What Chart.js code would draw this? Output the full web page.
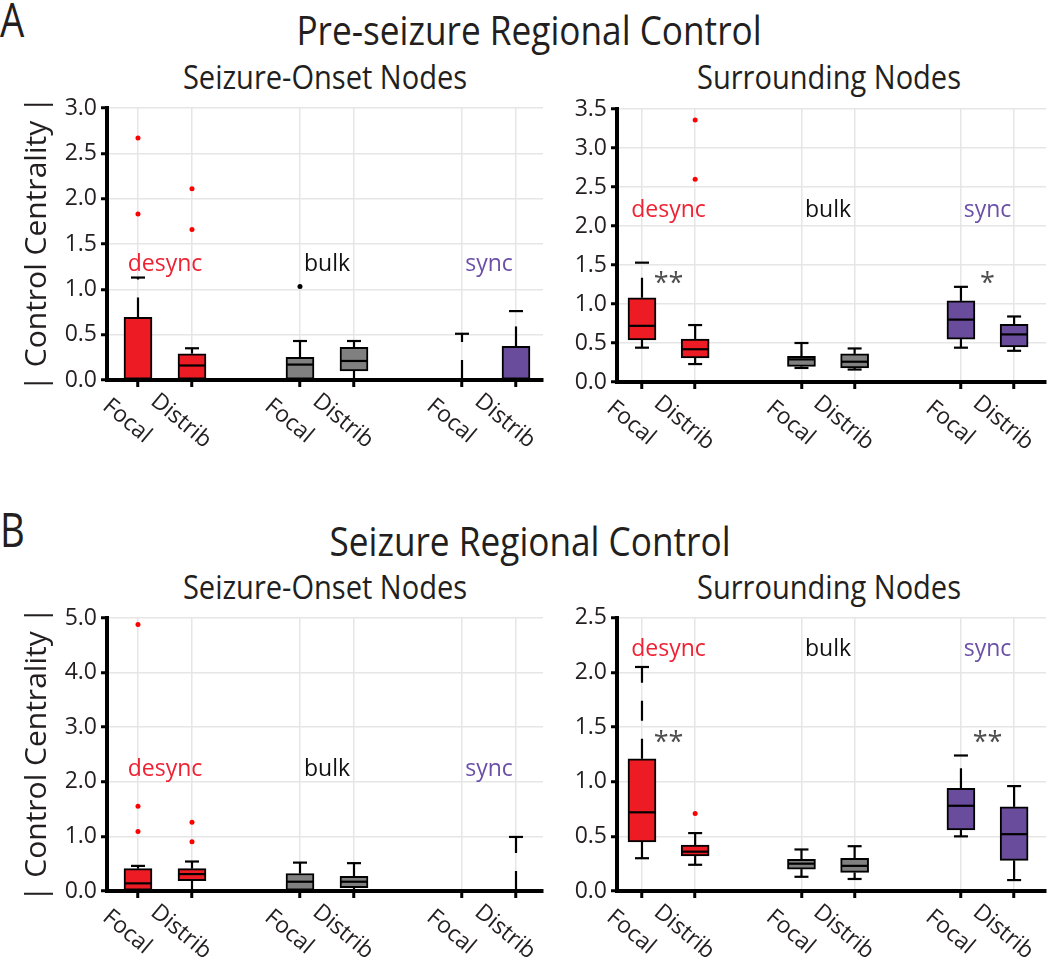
<!DOCTYPE html>
<html>
<head>
<meta charset="utf-8">
<script src="https://cdn.jsdelivr.net/npm/chart.js@4.4.1/dist/chart.umd.min.js"></script>
<style>
  body { margin: 0; background: #fff; width: 1050px; height: 958px; position: relative; overflow: hidden;
         font-family: "Open Sans", sans-serif; color: #231f20; }
  .t { position: absolute; white-space: nowrap; line-height: 1; transform-origin: center top; }
  .c { transform: translateX(-50%) scaleX(0.88); }
  canvas { position: absolute; }
</style>
</head>
<body>
<div class="t" style="left:0px;top:-5px;font-size:48px;transform:scaleX(0.8);transform-origin:left top">A</div>
<div class="t c" style="left:529px;top:10px;font-size:40px">Pre-seizure Regional Control</div>
<div class="t c" style="left:325px;top:60px;font-size:33px">Seizure-Onset Nodes</div>
<div class="t c" style="left:829px;top:60px;font-size:33px">Surrounding Nodes</div>

<div class="t" style="left:0px;top:505px;font-size:48px;transform:scaleX(0.8);transform-origin:left top">B</div>
<div class="t c" style="left:530px;top:521px;font-size:40px">Seizure Regional Control</div>
<div class="t c" style="left:325px;top:570px;font-size:33px">Seizure-Onset Nodes</div>
<div class="t c" style="left:829px;top:570px;font-size:33px">Surrounding Nodes</div>

<canvas id="preOnset" width="550" height="380" style="left:0px;top:90px"></canvas>
<canvas id="preSurr" width="530" height="380" style="left:520px;top:90px"></canvas>
<canvas id="szOnset" width="550" height="358" style="left:0px;top:600px"></canvas>
<canvas id="szSurr" width="530" height="358" style="left:520px;top:600px"></canvas>

<script>
// shared layout of every panel: desync / bulk / sync, each Focal + Distrib
const xPos = [0, 1, 3, 4, 6, 7];
const catLabels = ['Focal', 'Distrib', 'Focal', 'Distrib', 'Focal', 'Distrib'];
const groupNames = ['desync', 'bulk', 'sync'];
const groupCenters = [0.5, 3.5, 6.5];
const groupColors = ['#ed1c24', '#808080', '#6a4c9c'];
const groupTextColors = ['#ee2233', '#111111', '#6b4fa8'];
const outlierColors = ['#ff0000', '#000000', '#6a4c9c'];

// A, seizure-onset nodes
const preOnsetLo = [0, 0, 0, 0, 0, 0];
const preOnsetQ1 = [0, 0, 0, 0.10, 0, 0];
const preOnsetMed = [0, 0.16, 0.17, 0.21, 0, 0];
const preOnsetQ3 = [0.69, 0.29, 0.25, 0.36, 0, 0.37];
const preOnsetHi = [1.13, 0.35, 0.43, 0.43, 0.51, 0.76];
const preOnsetOut = [[2.67, 1.83], [2.11, 1.66], [1.03], [], [], []];

// A, surrounding nodes
const preSurrLo = [0.44, 0.23, 0.18, 0.16, 0.44, 0.40];
const preSurrQ1 = [0.54, 0.31, 0.20, 0.18, 0.55, 0.45];
const preSurrMed = [0.72, 0.42, 0.29, 0.26, 0.80, 0.61];
const preSurrQ3 = [1.08, 0.55, 0.33, 0.36, 1.04, 0.74];
const preSurrHi = [1.53, 0.73, 0.50, 0.43, 1.22, 0.84];
const preSurrOut = [[], [3.36, 2.60], [], [], [], []];
const preSurrStars = ['**', '', '*'];

// B, seizure-onset nodes
const szOnsetLo = [0, 0, 0, 0, 0, 0];
const szOnsetQ1 = [0, 0.19, 0, 0.06, 0, 0];
const szOnsetMed = [0.14, 0.31, 0.17, 0.17, 0, 0];
const szOnsetQ3 = [0.41, 0.41, 0.32, 0.27, 0, 0];
const szOnsetHi = [0.46, 0.54, 0.52, 0.51, 0, 0.99];
const szOnsetOut = [[4.88, 1.55, 1.09], [1.26, 0.90], [], [], [], []];

// B, surrounding nodes
const szSurrLo = [0.30, 0.24, 0.13, 0.11, 0.50, 0.10];
const szSurrQ1 = [0.45, 0.32, 0.20, 0.17, 0.56, 0.28];
const szSurrMed = [0.72, 0.36, 0.25, 0.23, 0.78, 0.52];
const szSurrQ3 = [1.21, 0.42, 0.29, 0.30, 0.94, 0.77];
const szSurrHi = [2.05, 0.53, 0.38, 0.41, 1.24, 0.96];
const szSurrOut = [[], [0.71], [], [], [], []];
const szSurrStars = ['**', '', '**'];

Chart.defaults.font.family = '"Open Sans", sans-serif';
Chart.defaults.color = '#231f20';

function boxExtras(d) {
  return {
    id: 'boxExtras',
    afterDatasetsDraw(chart) {
      const { ctx, scales: { x, y } } = chart;
      ctx.save();
      ctx.strokeStyle = '#000';
      ctx.lineWidth = 2.2;
      const whisker = (px, from, to) => {
        if (Math.abs(to - from) < 0.5) return;
        ctx.setLineDash([20, 18]);
        ctx.beginPath(); ctx.moveTo(px, from); ctx.lineTo(px, to); ctx.stroke();
        ctx.setLineDash([]);
        ctx.beginPath(); ctx.moveTo(px - 7, to); ctx.lineTo(px + 7, to); ctx.stroke();
      };
      d.q1.forEach((q1, i) => {
        const px = x.getPixelForValue(xPos[i]);
        whisker(px, y.getPixelForValue(d.q3[i]), y.getPixelForValue(d.hi[i]));
        whisker(px, y.getPixelForValue(q1), y.getPixelForValue(d.lo[i]));
        if (d.q3[i] > q1) {
          const py = y.getPixelForValue(d.med[i]);
          ctx.beginPath(); ctx.moveTo(px - 13, py); ctx.lineTo(px + 13, py); ctx.stroke();
        }
      });
      ctx.restore();
    },
    afterDraw(chart) {
      const { ctx, chartArea, scales: { x, y } } = chart;
      ctx.save();
      ctx.fillStyle = '#231f20';
      ctx.font = '23px "Open Sans"';
      ctx.textAlign = 'center';
      ctx.textBaseline = 'middle';
      // rotated category labels
      xPos.forEach((v, i) => {
        ctx.save();
        ctx.translate(x.getPixelForValue(v) - 11, chartArea.bottom + 41);
        ctx.rotate(40 * Math.PI / 180);
        ctx.fillText(catLabels[i], 0, 0);
        ctx.restore();
      });
      // group names
      ctx.font = '23px "Open Sans"';
      groupNames.forEach((g, i) => {
        ctx.fillStyle = groupTextColors[i];
        ctx.fillText(g, x.getPixelForValue(groupCenters[i]), y.getPixelForValue(d.labelY));
      });
      // significance
      if (d.stars) {
        ctx.fillStyle = '#4d4d4d';
        ctx.font = '27px "Open Sans"';
        d.stars.forEach((s, i) => {
          if (!s) return;
          ctx.fillText(s, x.getPixelForValue(groupCenters[i]), y.getPixelForValue(d.starY) + 5);
        });
      }
      ctx.restore();
    }
  };
}

function makePanel(id, d, o) {
  const boxes = [];
  const outliers = [];
  xPos.forEach((v, i) => {
    if (d.q3[i] > d.q1[i]) boxes.push({ x: v, y: [d.q1[i], d.q3[i]], g: Math.floor(i / 2) });
    d.out[i].forEach(val => outliers.push({ x: v, y: val, g: Math.floor(i / 2) }));
  });

  new Chart(document.getElementById(id), {
    type: 'bar',
    data: {
      datasets: [{
        data: boxes,
        backgroundColor: c => groupColors[c.raw ? c.raw.g : 0],
        borderColor: '#000',
        borderWidth: 2,
        borderSkipped: false,
        barThickness: 28
      }, {
        type: 'scatter',
        data: outliers,
        pointRadius: 2.5,
        pointBorderWidth: 0,
        pointBackgroundColor: c => outlierColors[c.raw ? c.raw.g : 0]
      }]
    },
    options: {
      responsive: false,
      animation: false,
      layout: { padding: o.pad },
      scales: {
        x: {
          type: 'linear',
          min: o.xMin,
          max: o.xMax,
          offset: false,
          afterBuildTicks: s => { s.ticks = xPos.map(v => ({ value: v })); },
          afterFit: s => { s.height = 10; },
          ticks: { display: false },
          grid: { offset: false, color: '#e6e6e6', lineWidth: 1.5, tickLength: 7, tickWidth: 3, tickColor: '#000' },
          border: { color: '#000', width: 4 }
        },
        y: {
          min: 0,
          max: o.yMax,
          afterFit: s => { s.width = o.yWidth; },
          ticks: { stepSize: o.yStep, padding: 4, font: { size: 23 }, callback: v => v.toFixed(1) },
          grid: { color: '#e6e6e6', lineWidth: 1.5, tickLength: 6, tickWidth: 3, tickColor: '#000' },
          border: { color: '#000', width: 4 },
          title: {
            display: o.yTitle,
            text: '| Control Centrality |',
            font: { size: 30 },
            padding: { top: 19, bottom: 0 }
          }
        }
      },
      plugins: { legend: { display: false }, tooltip: { enabled: false } }
    },
    plugins: [boxExtras(d)]
  });
}

makePanel('preOnset',
  { lo: preOnsetLo, q1: preOnsetQ1, med: preOnsetMed, q3: preOnsetQ3, hi: preOnsetHi, out: preOnsetOut, labelY: 1.27 },
  { yMax: 3, yStep: 0.5, yWidth: 107, xMin: -0.574, xMax: 7.5, yTitle: true,
    pad: { top: 18, right: 7, bottom: 80, left: 0 } });

makePanel('preSurr',
  { lo: preSurrLo, q1: preSurrQ1, med: preSurrMed, q3: preSurrQ3, hi: preSurrHi, out: preSurrOut,
    labelY: 2.2, stars: preSurrStars, starY: 1.32 },
  { yMax: 3.5, yStep: 0.5, yWidth: 97, xMin: -0.47, xMax: 7.6, yTitle: false,
    pad: { top: 19, right: 4, bottom: 78, left: 0 } });

makePanel('szOnset',
  { lo: szOnsetLo, q1: szOnsetQ1, med: szOnsetMed, q3: szOnsetQ3, hi: szOnsetHi, out: szOnsetOut, labelY: 2.23 },
  { yMax: 5, yStep: 1, yWidth: 107, xMin: -0.574, xMax: 7.5, yTitle: true,
    pad: { top: 18, right: 7, bottom: 57, left: 0 } });

makePanel('szSurr',
  { lo: szSurrLo, q1: szSurrQ1, med: szSurrMed, q3: szSurrQ3, hi: szSurrHi, out: szSurrOut,
    labelY: 2.21, stars: szSurrStars, starY: 1.40 },
  { yMax: 2.5, yStep: 0.5, yWidth: 97, xMin: -0.47, xMax: 7.6, yTitle: false,
    pad: { top: 17, right: 4, bottom: 57, left: 0 } });
</script>
</body>
</html>
